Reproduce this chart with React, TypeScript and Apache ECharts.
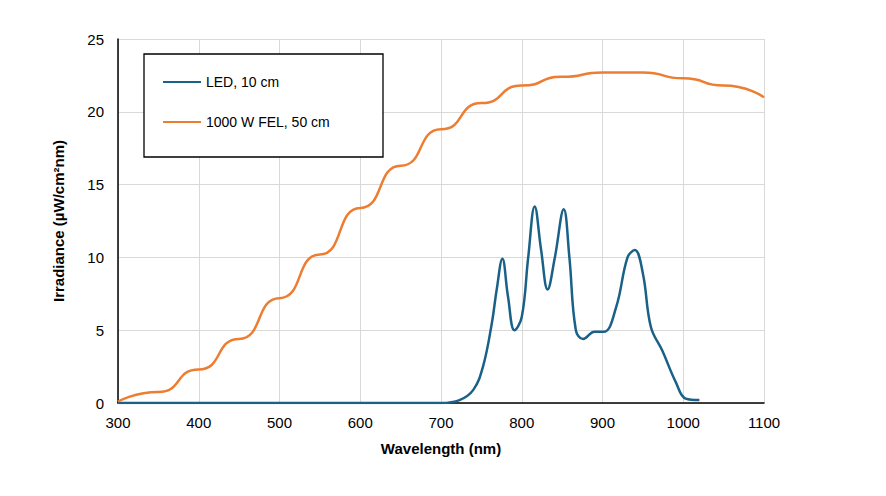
import * as echarts from 'echarts';
import React, { useEffect, useRef } from 'react';

const ledWave = [700, 723, 740, 752, 763, 769, 776, 783, 791, 800, 808, 816, 824, 832, 841, 852, 859, 867, 876, 890, 902, 917, 931, 940, 950, 960, 974, 991, 1003, 1020];
const ledVal = [0, 0.2, 0.9, 2.5, 5.5, 7.8, 9.9, 7.3, 5.0, 5.9, 10, 13.5, 10.5, 7.8, 10, 13.3, 10, 5.0, 4.4, 4.9, 4.9, 6.6, 10, 10.5, 8.9, 5.2, 3.6, 1.4, 0.3, 0.2];
const ledFlatWave = [300, 700];
const felWave = [300, 350, 400, 450, 500, 550, 600, 650, 700, 750, 800, 850, 900, 950, 1000, 1050, 1100];
const felVal = [0.1, 0.75, 2.3, 4.4, 7.2, 10.2, 13.4, 16.3, 18.8, 20.6, 21.8, 22.4, 22.7, 22.7, 22.3, 21.8, 21.0];

const App = () => {
  const ref = useRef<HTMLDivElement>(null);

  useEffect(() => {
    const chart = echarts.init(ref.current, null, { renderer: 'svg' });
    const ledData = [...ledFlatWave.map((w) => [w, 0]), ...ledWave.map((w, i) => [w, ledVal[i]])];
    chart.setOption({
      animation: false,
      textStyle: { fontFamily: 'Liberation Sans, Arial, sans-serif' },
      grid: { left: 110, right: 114, top: 31, bottom: 85 },
      graphic: [
        { type: 'rect', shape: { x: 136, y: 46, width: 239, height: 103 }, style: { fill: '#fff', stroke: '#000', lineWidth: 1.3 }, z: 10 },
      ],
      legend: {
        left: 150, top: 62, orient: 'vertical', itemGap: 26, itemWidth: 38, itemHeight: 2, z: 20,
        icon: 'rect',
        textStyle: { fontSize: 14, color: '#000' },
      },
      xAxis: {
        type: 'value', min: 300, max: 1100, interval: 100,
        name: 'Wavelength (nm)', nameLocation: 'middle', nameGap: 38,
        nameTextStyle: { fontWeight: 'bold', fontSize: 15, color: '#000' },
        axisLine: { lineStyle: { color: '#000', width: 1.5 } },
        axisTick: { show: false },
        axisLabel: { fontSize: 15, color: '#000', margin: 12, formatter: (v: number) => String(v) },
        splitLine: { show: true, lineStyle: { color: '#d9d9d9' } },
      },
      yAxis: {
        type: 'value', min: 0, max: 25, interval: 5,
        name: 'Irradiance (µW/cm²nm)', nameLocation: 'middle', nameGap: 52,
        nameTextStyle: { fontWeight: 'bold', fontSize: 15, color: '#000' },
        axisLine: { show: true, lineStyle: { color: '#000', width: 1.5 } },
        axisTick: { show: false },
        axisLabel: { fontSize: 15, color: '#000', margin: 14 },
        splitLine: { lineStyle: { color: '#d9d9d9' } },
      },
      series: [
        { name: 'LED, 10 cm', type: 'line', smooth: 0.4, showSymbol: false, data: ledData, lineStyle: { color: '#1a6187', width: 2.5 }, itemStyle: { color: '#1a6187' } },
        { name: '1000 W FEL, 50 cm', type: 'line', smooth: 0.6, smoothMonotone: 'x', showSymbol: false, data: felWave.map((w, i) => [w, felVal[i]]), lineStyle: { color: '#ed7d31', width: 2.5 }, itemStyle: { color: '#ed7d31' } },
      ],
    });
    return () => chart.dispose();
  }, []);

  return <div ref={ref} style={{ width: 870, height: 480 }} />;
};

export default App;
